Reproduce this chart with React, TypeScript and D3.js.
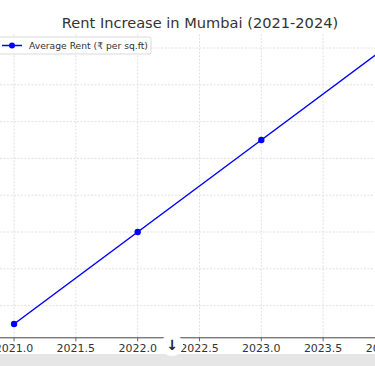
import React from "react";
import * as d3 from "d3";

const years = [2021, 2022, 2023, 2024];
const rents = [55, 60, 65, 70];
const xTicks = [2021.0, 2021.5, 2022.0, 2022.5, 2023.0, 2023.5, 2024.0];
const yTicks = [54, 56, 58, 60, 62, 64, 66, 68, 70];
const title = "Rent Increase in Mumbai (2021-2024)";
const seriesName = "Average Rent (₹ per sq.ft)";

export default function App() {
  const W = 375, H = 366;
  const x = d3.scaleLinear().domain([2020.85, 2024.15]).range([-4.5, 403.5]);
  const y = d3.scaleLinear().domain([54.25, 70.75]).range([337.8, 34.2]);
  const line = d3.line<number>().x((_, i) => x(years[i])).y((d) => y(d));
  const font = "DejaVu Sans, sans-serif";
  const top = y(70.75), bottom = y(54.25);
  return (
    <svg width={W} height={H} style={{ position: "absolute", left: 0, top: 0, background: "#fff" }}>
      <rect x={0} y={0} width={W} height={H} fill="#fff" />
      {xTicks.map((t) => (
        <line key={"gx" + t} x1={x(t)} x2={x(t)} y1={top} y2={bottom} stroke="#d9d9d9" strokeWidth={0.8} strokeDasharray="2,1.5" />
      ))}
      {yTicks.filter((t) => y(t) > top && y(t) < bottom).map((t) => (
        <line key={"gy" + t} x1={0} x2={W} y1={y(t)} y2={y(t)} stroke="#d9d9d9" strokeWidth={0.8} strokeDasharray="2,1.5" />
      ))}
      <line x1={0} x2={W} y1={bottom} y2={bottom} stroke="#444" strokeWidth={1} />
      {xTicks.map((t) => (
        <g key={"tx" + t}>
          <line x1={x(t)} x2={x(t)} y1={bottom} y2={bottom + 3.5} stroke="#444" strokeWidth={0.8} />
          <text x={x(t)} y={bottom + 14.5} textAnchor="middle" fontFamily={font} fontSize={11} fill="#333">
            {t.toFixed(1)}
          </text>
        </g>
      ))}
      <path d={line(rents) || ""} fill="none" stroke="#0000ff" strokeWidth={1.5} />
      {rents.map((r, i) => (
        <circle key={"p" + i} cx={x(years[i])} cy={y(r)} r={3.2} fill="#0000ff" />
      ))}
      <text x={200} y={28} textAnchor="middle" fontFamily={font} fontSize={14.6} fill="#333">
        {title}
      </text>
      <rect x={-3} y={37} width={154} height={17} rx={2} fill="#fff" fillOpacity={0.85} stroke="#d0d0d0" strokeWidth={0.8} />
      <line x1={2} x2={22} y1={45.5} y2={45.5} stroke="#0000ff" strokeWidth={1.5} />
      <circle cx={12} cy={45.5} r={3} fill="#0000ff" />
      <text x={29} y={49} fontFamily={font} fontSize={9.2} fill="#333">
        {seriesName}
      </text>
      <rect x={0} y={354} width={W} height={12} fill="#e6e6e6" />
      <circle cx={172} cy={345} r={11} fill="#fff" />
      <text x={172} y={350} textAnchor="middle" fontFamily={font} fontSize={14} fontWeight="bold" fill="#222">
        ↓
      </text>
    </svg>
  );
}
